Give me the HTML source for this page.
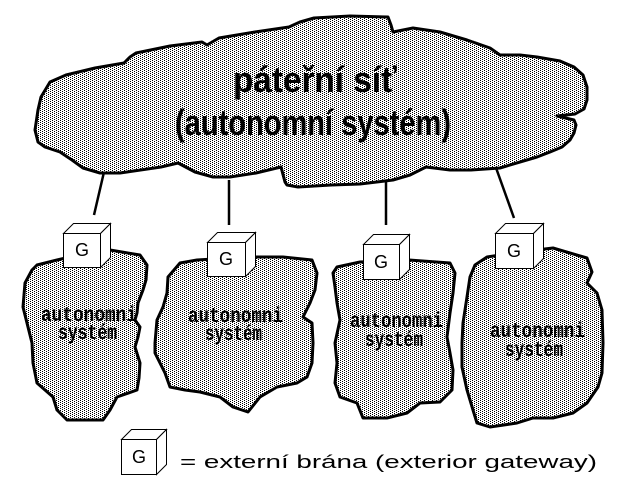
<!DOCTYPE html>
<html>
<head>
<meta charset="utf-8">
<style>
html,body{margin:0;padding:0;background:#fff;}
svg{display:block;}
</style>
</head>
<body>
<svg width="640" height="480" viewBox="0 0 640 480" xmlns="http://www.w3.org/2000/svg">
<defs>
<pattern id="dith" width="4" height="2" patternUnits="userSpaceOnUse">
<rect width="4" height="2" fill="#fff"/>
<rect x="0" y="0" width="1" height="1" fill="#000"/>
<rect x="2" y="1" width="1" height="1" fill="#000"/>
</pattern>
</defs>
<rect width="640" height="480" fill="#fff"/>

<!-- connector lines -->
<g stroke="#000" stroke-width="2.5">
<line x1="104" y1="172" x2="94" y2="215"/>
<line x1="229" y1="180" x2="229" y2="225"/>
<line x1="386" y1="178" x2="386" y2="225"/>
<line x1="495" y1="165" x2="514" y2="218"/>
</g>

<!-- big cloud -->
<polygon fill="url(#dith)" stroke="#000" stroke-width="3" stroke-linejoin="round"
points="35,130 38,110 41,97 50,82 66,75 95,68 124,63 130,57 136,53 170,46 202,42 207,45 219,38 255,32 289,27 300,22 314,18 350,16 388,17 391,25 393,32 413,28 440,32 467,40 490,48 500,55 520,55 537,57 560,61 574,67 583,75 587,87 587,100 584,109 575,114 557,116 574,120 576,125 574,133 570,140 562,147 550,152 537,157 500,168 471,170 450,170 426,167 410,175 393,180 360,184 331,185 298,187 287,185 285,182 281,167 256,173 230,177 213,177 195,172 178,163 161,167 120,173 100,173 83,168 72,160 60,152 45,147 38,142"/>

<g font-family="'Liberation Sans', 'DejaVu Sans', sans-serif" font-weight="bold" font-size="36" fill="#000">
<text x="233" y="92" textLength="164" lengthAdjust="spacingAndGlyphs">páteřní síť</text>
<text x="175" y="135" textLength="276" lengthAdjust="spacingAndGlyphs">(autonomní systém)</text>
</g>

<!-- small clouds -->
<g fill="url(#dith)" stroke="#000" stroke-width="3" stroke-linejoin="round">
<polygon points="25,283 32,270 37,265 57,260 70,257 100,252 110,250 140,255 147,265 146,280 143,290 138,303 137,313 135,320 140,327 138,337 135,347 140,363 139,378 137,390 117,397 110,410 103,420 83,420 67,420 57,410 53,397 37,383 33,363 32,343 27,323 23,307 24,295"/>
<polygon points="155,343 157,320 163,307 167,293 168,277 180,263 197,260 230,258 255,257 283,257 312,260 317,273 315,290 310,303 303,317 312,323 313,343 312,363 307,377 297,383 277,387 260,397 248,412 233,407 220,397 200,392 185,390 170,387 165,373 160,363 155,353"/>
<polygon points="337,267 360,262 409,260 450,263 455,273 453,293 450,313 447,337 450,353 453,370 452,390 440,402 420,403 407,413 387,418 363,418 357,403 340,397 335,383 337,363 335,343 340,320 337,303 335,287 333,273"/>
<polygon points="475,265 487,257 520,252 553,248 587,258 592,272 587,283 597,293 602,310 603,343 602,373 598,387 587,403 573,413 553,418 533,418 517,423 490,427 477,423 473,410 467,390 462,367 462,343 463,323 467,297 470,277"/>
</g>

<g font-family="'Liberation Mono', 'DejaVu Sans Mono', monospace" font-weight="bold" font-size="21" fill="#000">
<text x="41" y="321" textLength="96" lengthAdjust="spacingAndGlyphs">autonomni</text>
<text x="58" y="339" textLength="59" lengthAdjust="spacingAndGlyphs">systém</text>
<text x="188" y="322" textLength="95" lengthAdjust="spacingAndGlyphs">autonomni</text>
<text x="205" y="340" textLength="57" lengthAdjust="spacingAndGlyphs">systém</text>
<text x="350" y="327" textLength="93" lengthAdjust="spacingAndGlyphs">autonomni</text>
<text x="365" y="346" textLength="58" lengthAdjust="spacingAndGlyphs">systém</text>
<text x="490" y="337" textLength="95" lengthAdjust="spacingAndGlyphs">autonomni</text>
<text x="505" y="356" textLength="58" lengthAdjust="spacingAndGlyphs">systém</text>
</g>

<!-- gateway boxes -->
<g fill="#fff" stroke="#000" stroke-width="1" stroke-linejoin="miter">
<polygon points="63.5,233.5 73.5,223.5 110.5,223.5 100.5,233.5"/>
<polygon points="100.5,233.5 110.5,223.5 110.5,257.5 100.5,267.5"/>
<rect x="63.5" y="233.5" width="37" height="34"/>
<polygon points="207.5,242.5 217.5,232.5 255.5,232.5 245.5,242.5"/>
<polygon points="245.5,242.5 255.5,232.5 255.5,266.5 245.5,276.5"/>
<rect x="207.5" y="242.5" width="38" height="34"/>
<polygon points="363.5,244.5 373.5,234.5 409.5,234.5 399.5,244.5"/>
<polygon points="399.5,244.5 409.5,234.5 409.5,269.5 399.5,279.5"/>
<rect x="363.5" y="244.5" width="36" height="35"/>
<polygon points="495.5,233.5 505.5,223.5 543.5,223.5 533.5,233.5"/>
<polygon points="533.5,233.5 543.5,223.5 543.5,258.5 533.5,268.5"/>
<rect x="495.5" y="233.5" width="38" height="35"/>
<polygon points="121.5,439.5 131.5,429.5 166.5,429.5 156.5,439.5"/>
<polygon points="156.5,439.5 166.5,429.5 166.5,464.5 156.5,474.5"/>
<rect x="121.5" y="439.5" width="35" height="35"/>
</g>

<g font-family="'Liberation Sans', 'DejaVu Sans', sans-serif" font-size="18" fill="#000" text-anchor="middle">
<text x="82" y="256">G</text>
<text x="226" y="265">G</text>
<text x="381" y="268">G</text>
<text x="514" y="257">G</text>
<text x="139" y="463">G</text>
</g>

<text x="180" y="468" font-family="'Liberation Sans', 'DejaVu Sans', sans-serif" font-size="18" fill="#000" textLength="417" lengthAdjust="spacingAndGlyphs">= externí brána (exterior gateway)</text>
</svg>
</body>
</html>
